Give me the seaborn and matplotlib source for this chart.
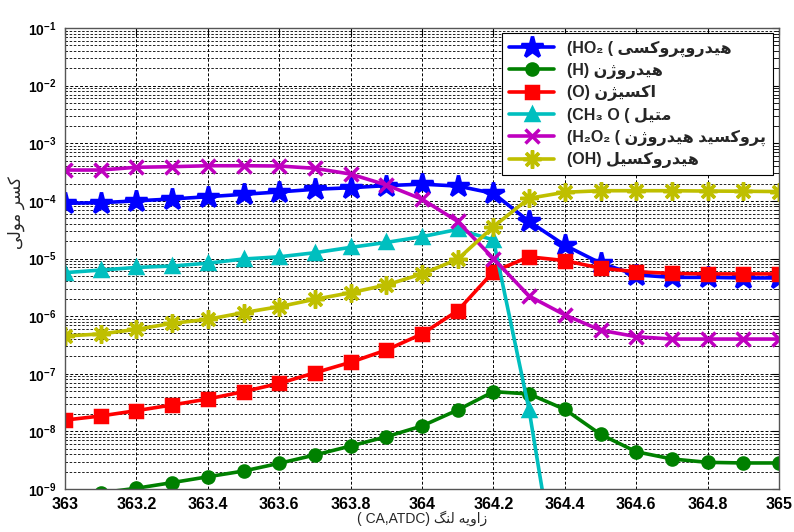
import matplotlib
matplotlib.use("Agg")
import matplotlib.pyplot as plt
import seaborn as sns
import pandas as pd
from matplotlib.ticker import LogLocator, NullFormatter, FixedLocator, FormatStrFormatter

# crank angle (deg) and mole fractions
angle = [363.0, 363.1, 363.2, 363.3, 363.4, 363.5, 363.6, 363.7, 363.8, 363.9, 364.0,
         364.1, 364.2, 364.3, 364.4, 364.5, 364.6, 364.7, 364.8, 364.9, 365.0]
xticks = [363, 363.2, 363.4, 363.6, 363.8, 364, 364.2, 364.4, 364.6, 364.8, 365]
ho2 = [9.1e-5, 9.3e-5, 1.0e-4, 1.08e-4, 1.18e-4, 1.30e-4, 1.43e-4, 1.59e-4, 1.69e-4, 1.84e-4, 1.95e-4,
       1.81e-4, 1.35e-4, 4.4e-5, 1.7e-5, 8.3e-6, 5.2e-6, 4.7e-6, 4.7e-6, 4.6e-6, 4.6e-6]
h = [7e-10, 8.6e-10, 1.03e-9, 1.29e-9, 1.63e-9, 2.05e-9, 2.79e-9, 3.89e-9, 5.57e-9, 8.07e-9, 1.24e-8,
     2.35e-8, 4.89e-8, 4.46e-8, 2.41e-8, 8.9e-9, 4.43e-9, 3.32e-9, 2.9e-9, 2.83e-9, 2.83e-9]
o = [1.57e-8, 1.85e-8, 2.29e-8, 2.87e-8, 3.65e-8, 4.89e-8, 6.8e-8, 1.04e-7, 1.58e-7, 2.58e-7, 4.9e-7,
     1.24e-6, 5.9e-6, 1.07e-5, 9.2e-6, 6.8e-6, 5.9e-6, 5.5e-6, 5.4e-6, 5.4e-6, 5.4e-6]
ch3o = [5.68e-6, 6.3e-6, 7.0e-6, 7.4e-6, 8.3e-6, 9.8e-6, 1.07e-5, 1.26e-5, 1.56e-5, 1.9e-5, 2.39e-5,
        3.2e-5, 2.1e-5, 2.35e-8, 4e-12, 1e-13, 1e-13, 1e-13, 1e-13, 1e-13, 1e-13]
h2o2 = [3.43e-4, 3.43e-4, 3.83e-4, 3.92e-4, 4.07e-4, 4.07e-4, 4.03e-4, 3.67e-4, 2.92e-4, 1.89e-4, 1.07e-4,
        4.4e-5, 1.0e-5, 2.23e-6, 1.05e-6, 5.7e-7, 4.4e-7, 4.0e-7, 4.0e-7, 4.0e-7, 4.0e-7]
oh = [4.52e-7, 4.9e-7, 5.9e-7, 7.5e-7, 8.8e-7, 1.15e-6, 1.46e-6, 1.96e-6, 2.55e-6, 3.47e-6, 5.4e-6,
      9.7e-6, 3.56e-5, 1.11e-4, 1.41e-4, 1.5e-4, 1.5e-4, 1.5e-4, 1.48e-4, 1.47e-4, 1.45e-4]

# Persian contextual forms (isolated, final, initial, medial) - matplotlib does no shaping/bidi
FORMS = {
    'ا': ('\uFE8D', '\uFE8E', None, None),
    'د': ('\uFEA9', '\uFEAA', None, None),
    'ر': ('\uFEAD', '\uFEAE', None, None),
    'ز': ('\uFEAF', '\uFEB0', None, None),
    'ژ': ('\uFB8A', '\uFB8B', None, None),
    'و': ('\uFEED', '\uFEEE', None, None),
    'ه': ('\uFEE9', '\uFEEA', '\uFEEB', '\uFEEC'),
    'ی': ('\uFBFC', '\uFBFD', '\uFBFE', '\uFBFF'),
    'پ': ('\uFB56', '\uFB57', '\uFB58', '\uFB59'),
    'ک': ('\uFB8E', '\uFB8F', '\uFB90', '\uFB91'),
    'س': ('\uFEB1', '\uFEB2', '\uFEB3', '\uFEB4'),
    'ن': ('\uFEE5', '\uFEE6', '\uFEE7', '\uFEE8'),
    'م': ('\uFEE1', '\uFEE2', '\uFEE3', '\uFEE4'),
    'ت': ('\uFE95', '\uFE96', '\uFE97', '\uFE98'),
    'ل': ('\uFEDD', '\uFEDE', '\uFEDF', '\uFEE0'),
    'گ': ('\uFB92', '\uFB93', '\uFB94', '\uFB95'),
}


def fa(text):
    out = []
    for i, ch in enumerate(text):
        f = FORMS.get(ch)
        if f is None:
            out.append(ch)
            continue
        prev = text[i - 1] if i > 0 else ''
        nxt = text[i + 1] if i < len(text) - 1 else ''
        jp = prev in FORMS and FORMS[prev][2] is not None
        jn = nxt in FORMS and f[2] is not None
        if jp and jn:
            out.append(f[3])
        elif jp:
            out.append(f[1])
        elif jn:
            out.append(f[2])
        else:
            out.append(f[0])
    return ''.join(out)[::-1]


labels = [
    "(HO\u2082 ( " + fa("هیدروپروکسی"),
    "(H) " + fa("هیدروژن"),
    "(O) " + fa("اکسیژن"),
    "(CH\u2083 O ( " + fa("متیل"),
    "(H\u2082O\u2082 ( " + fa("پروکسید هیدروژن"),
    "(OH) " + fa("هیدروکسیل"),
]
series = [ho2, h, o, ch3o, h2o2, oh]
colors = ["#0000ff", "#008000", "#ff0000", "#00bfbf", "#bf00bf", "#bfbf00"]
markers = ["*", "o", "s", "^", "x", (8, 2, 0)]
msizes = [16, 8, 8, 9, 10, 13]

sns.set_style("white")
plt.rcParams['font.family'] = ['Liberation Sans', 'DejaVu Sans']
plt.rcParams['font.weight'] = 'bold'

fig = plt.figure(figsize=(7.94, 5.32), dpi=100)
ax = fig.add_axes([65 / 794, 1 - 489 / 532, 714 / 794, 461 / 532])
ax.set_yscale("log")

df = pd.DataFrame({"angle": angle})
for vals, lab, c, m, ms in zip(series, labels, colors, markers, msizes):
    df["v"] = vals
    sns.lineplot(data=df, x="angle", y="v", ax=ax, color=c, marker=m, markersize=ms,
                 mec=c, mew=2.5, lw=2.6, label=lab)

ax.set_xlim(363, 365)
ax.set_ylim(1e-9, 1e-1)
ax.xaxis.set_major_locator(FixedLocator(xticks))
ax.xaxis.set_major_formatter(FormatStrFormatter('%g'))
ax.yaxis.set_major_locator(LogLocator(base=10, numticks=20))
ax.yaxis.set_minor_locator(LogLocator(base=10, subs=range(2, 10), numticks=100))
ax.yaxis.set_minor_formatter(NullFormatter())
ax.xaxis.get_offset_text().set_visible(False)
ax.yaxis.get_offset_text().set_visible(False)

ax.grid(True, which="major", axis="both", color="black", ls=(0, (3, 2)), lw=0.7)
ax.grid(True, which="minor", axis="y", color="black", ls=(0, (3, 2)), lw=0.6)
ax.tick_params(which="both", direction="in", top=True, right=True, colors="black", length=5)
ax.tick_params(axis="x", labelsize=11.5, pad=6)
ax.tick_params(axis="y", labelsize=10, pad=6)
ax.tick_params(which="minor", length=3)
for s in ax.spines.values():
    s.set_color("#555555")
    s.set_linewidth(1.0)

ax.set_xlabel("( CA,ATDC) " + fa("زاویه لنگ"), fontsize=10, labelpad=-1)
ax.set_ylabel(fa("کسر مولی"), fontsize=12)
ax.yaxis.set_label_coords(-0.056, 0.6)

leg = ax.legend(loc="upper right", bbox_to_anchor=(773 / 794, 1 - 33 / 532),
                bbox_transform=fig.transFigure, borderaxespad=0, fancybox=False,
                framealpha=1, edgecolor="black", fontsize=11.5, handlelength=2.8,
                labelspacing=0.4, borderpad=0.45)
leg.get_frame().set_linewidth(0.8)

fig.savefig("out.png", dpi=100)
